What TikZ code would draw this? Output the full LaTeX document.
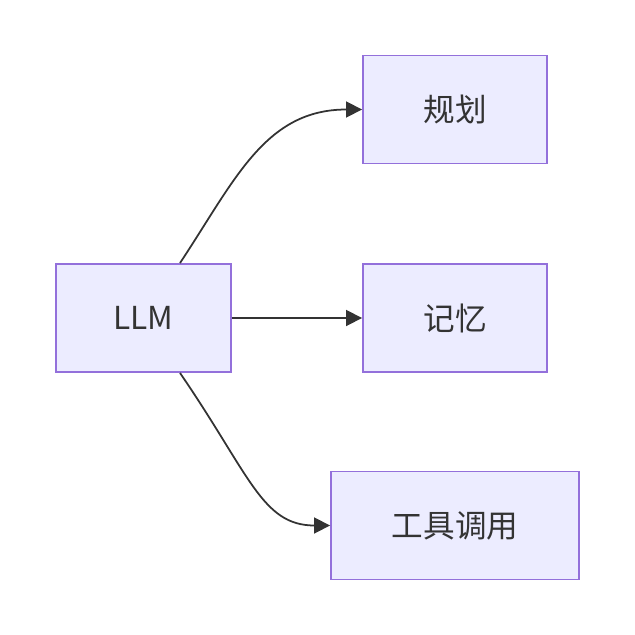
\documentclass[tikz,border=0pt]{standalone}
\usepackage{fontspec}
\setmainfont{Noto Sans CJK SC}
\usepackage{tikz}
\usetikzlibrary{positioning,calc,arrows.meta}

\definecolor{boxfill}{HTML}{ECECFF}
\definecolor{boxline}{HTML}{9370DB}
\definecolor{inkgray}{HTML}{333333}

\tikzset{
    box/.style={draw=boxline, fill=boxfill, line width=1.1pt, minimum width=3.5cm,
        minimum height=2.16cm, inner sep=0pt, text=inkgray,
        font=\fontsize{18}{22}\selectfont},
    link/.style={draw=inkgray, line width=1pt,
        -{Triangle[length=0.32cm, width=0.32cm]}}
}

\begin{document}
\begin{tikzpicture}[x=0.02cm, y=-0.02cm]
    \useasboundingbox (0,0) rectangle (635,635);

    % Nodes
    \node[box] (llm) at (143.5,318) {LLM};
    \node[box, minimum width=3.68cm] (plan) at (455,109.5) {规划};
    \node[box, minimum width=3.68cm] (mem) at (455,318) {记忆};
    \node[box, minimum width=4.96cm] (tool) at (455,525.5) {工具调用};

    % Start points of the curved links
    \coordinate (up) at ($(llm.north)+(36.5,0)$);
    \coordinate (down) at ($(llm.south)+(36.5,0)$);

    % Links
    \draw[link] (up) .. controls (235,180) and (265,109.5) .. (plan.west);
    \draw[link] (llm.east) -- (mem.west);
    \draw[link] (down) .. controls (250,475) and (262,525.5) .. (tool.west);
\end{tikzpicture}
\end{document}
